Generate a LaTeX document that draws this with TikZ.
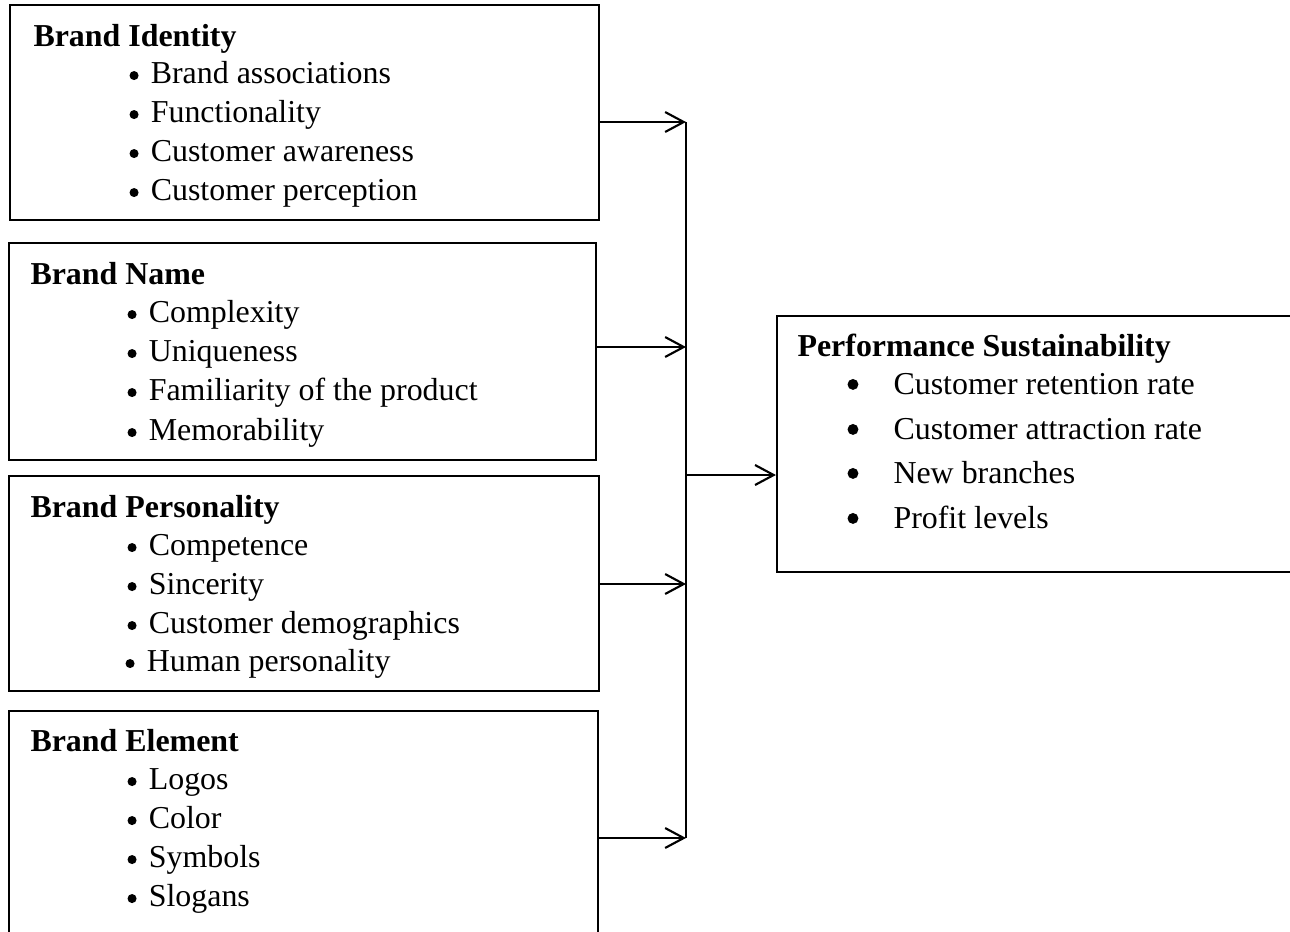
\documentclass[tikz,border=0pt]{standalone}
\usepackage{fontspec}
\setmainfont{Liberation Serif}
\usetikzlibrary{arrows.meta,fit}
% round bullet marks: small one for the driver lists, larger one for the outcome list
\newcommand\bdot{\tikz[baseline=0pt]\fill (1.7pt,2.8pt) circle[radius=1.7pt];\hspace{4.6pt}}
\newcommand\pdot{\tikz[baseline=0pt]\fill (2.05pt,3.6pt) circle[radius=2.05pt];}
\begin{document}
\begin{tikzpicture}[x=0.376pt,y=-0.376pt,
  box/.style={draw, line width=0.8pt, rectangle, inner sep=0pt},
  title/.style={anchor=base west, inner sep=0pt, font=\fontsize{12}{14}\selectfont\bfseries},
  item/.style={anchor=base west, inner sep=0pt, font=\fontsize{12}{14}\selectfont},
  link/.style={line width=0.8pt, -{Straight Barb[length=7pt,width=7.5pt,line width=0.8pt]}},
  bus/.style={line width=0.8pt}]
\useasboundingbox (0,0) rectangle (1290,932);
\clip (0,0) rectangle (1290,932);

% the four driver boxes
\node[box, fit={(10,5) (599,220)}] (b1) {};
\node[box, fit={(9,243) (596,460)}] (b2) {};
\node[box, fit={(9,476) (599,691)}] (b3) {};
\node[box, fit={(9,711) (598,952)}] (b4) {};
% outcome box
\node[box, fit={(777,316) (1310,572)}] (perf) {};

% Brand Identity
\node[title] (t1) at (33,46) {Brand Identity};
\node[item] (t1a) at (129,83) {\bdot Brand associations};
\node[item] (t1b) at (129,122) {\bdot Functionality};
\node[item] (t1c) at (129,161) {\bdot Customer awareness};
\node[item] (t1d) at (129,200) {\bdot Customer perception};

% Brand Name
\node[title] (t2) at (30,284) {Brand Name};
\node[item] (t2a) at (127,322) {\bdot Complexity};
\node[item] (t2b) at (127,361) {\bdot Uniqueness};
\node[item] (t2c) at (127,400) {\bdot Familiarity of the product};
\node[item] (t2d) at (127,440) {\bdot Memorability};

% Brand Personality
\node[title] (t3) at (30,517) {Brand Personality};
\node[item] (t3a) at (127,555) {\bdot Competence};
\node[item] (t3b) at (127,594) {\bdot Sincerity};
\node[item] (t3c) at (127,633) {\bdot Customer demographics};
\node[item] (t3d) at (125,671) {\bdot Human personality};

% Brand Element
\node[title] (t4) at (30,751) {Brand Element};
\node[item] (t4a) at (127,789) {\bdot Logos};
\node[item] (t4b) at (127,828) {\bdot Color};
\node[item] (t4c) at (127,867) {\bdot Symbols};
\node[item] (t4d) at (127,906) {\bdot Slogans};

% Performance Sustainability
\node[title] (tp) at (797,356) {Performance Sustainability};
\node[item] (pb1) at (847,394) {\pdot};
\node[item] (pa1) at (893,394) {Customer retention rate};
\node[item] (pb2) at (847,439) {\pdot};
\node[item] (pa2) at (893,439) {Customer attraction rate};
\node[item] (pb3) at (847,483) {\pdot};
\node[item] (pa3) at (893,483) {New branches};
\node[item] (pb4) at (847,528) {\pdot};
\node[item] (pa4) at (893,528) {Profit levels};

% collecting bus
\coordinate (j1) at (686,122);
\coordinate (j2) at (686,347);
\coordinate (j3) at (686,584);
\coordinate (j4) at (686,838);
\coordinate (jm) at (686,475);

\draw[bus] (j1) -- (j4);
\draw[link] (b1.east |- j1) -- (j1);
\draw[link] (b2.east |- j2) -- (j2);
\draw[link] (b3.east |- j3) -- (j3);
\draw[link] (b4.east |- j4) -- (j4);
\draw[link] (jm) -- (perf.west |- jm);
\end{tikzpicture}
\end{document}
